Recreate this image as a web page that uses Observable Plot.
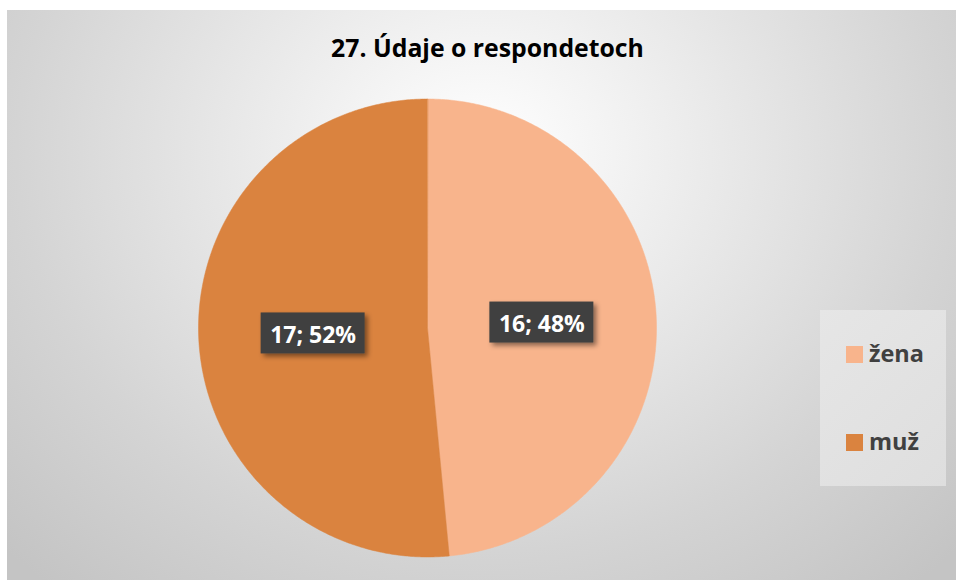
<!DOCTYPE html>
<html><head><meta charset="utf-8">
<script src="https://cdn.jsdelivr.net/npm/d3@7"></script>
<script src="https://cdn.jsdelivr.net/npm/@observablehq/plot@0.6"></script>
<style>
html,body{margin:0;padding:0;background:#fff;}
#wrap{position:relative;width:956px;height:580px;overflow:hidden;font-family:"Open Sans",sans-serif;}
#bg{position:absolute;left:7px;top:10px;right:0;bottom:0;
 background:radial-gradient(ellipse 70% 100% at 50% 25%, #ffffff 0%, #f3f3f3 20%, #d4d4d4 70%, #c4c4c4 100%);}
#chart{position:absolute;left:0;top:0;}
#title{position:absolute;left:287.5px;width:400px;top:30px;line-height:34px;text-align:center;font-size:24.8px;font-weight:bold;color:#000;white-space:nowrap;}
#legend{position:absolute;left:820px;top:310px;width:126px;height:176px;background:linear-gradient(135deg,#e6e6e6,#dedede);}
.sw{position:absolute;width:17px;height:17px;}
.lt{position:absolute;font-size:23.5px;font-weight:bold;color:#404040;line-height:31px;white-space:nowrap;}
</style></head>
<body>
<div id="wrap">
  <div id="bg"></div>
  <div id="chart"></div>
  <div id="title"></div>
  <div id="legend"></div>
</div>
<script>
const categories = ["žena", "muž"];
const values = [16, 17];
const colors = ["#F8B48C", "#DA833F"];
const titleText = "27. Údaje o respondetoch";

const W = 956, H = 580, cx = 427, cy = 327.5, R = 229;
const total = d3.sum(values);
const arcs = d3.pie().sort(null).value(d => d)(values);

const slicePts = [];
arcs.forEach((a, i) => {
  const cat = categories[i];
  const n = Math.max(2, Math.ceil((a.endAngle - a.startAngle) / (Math.PI / 360)));
  slicePts.push({cat, px: cx, py: cy});
  for (let k = 0; k <= n; k++) {
    const ang = a.startAngle + (a.endAngle - a.startAngle) * k / n;
    slicePts.push({cat, px: cx + R * Math.sin(ang), py: cy - R * Math.cos(ang)});
  }
});

const labels = arcs.map((a, i) => {
  const mid = (a.startAngle + a.endAngle) / 2;
  return {
    cat: categories[i],
    label: `${values[i]}; ${Math.round(values[i] / total * 100)}%`,
    lx: cx + R / 2 * Math.sin(mid),
    ly: cy - R / 2 * Math.cos(mid)
  };
});

const plot = Plot.plot({
  width: W, height: H, margin: 0,
  x: {domain: [0, W], range: [0, W], axis: null},
  y: {domain: [0, H], range: [0, H], axis: null},
  color: {domain: categories, range: colors},
  style: {background: "transparent", overflow: "visible"},
  marks: [
    Plot.line(slicePts, {x: "px", y: "py", z: "cat", fill: "cat", stroke: "cat", strokeWidth: 0.5, curve: "linear-closed"}),
    Plot.rect(labels, {x1: d => d.lx - 52, x2: d => d.lx + 52, y1: d => d.ly - 20.5, y2: d => d.ly + 20.5, fill: "#404040"}),
    Plot.text(labels, {x: "lx", y: "ly", text: "label", fill: "white", fontSize: 23, fontWeight: "bold", fontFamily: "Open Sans", dy: 2})
  ]
});

// drop shadow for label boxes
const ns = "http://www.w3.org/2000/svg";
const defs = document.createElementNS(ns, "defs");
defs.innerHTML = '<filter id="sh" x="-20%" y="-30%" width="150%" height="170%"><feDropShadow dx="3" dy="3" stdDeviation="2.5" flood-color="#000" flood-opacity="0.45"/></filter>';
plot.insertBefore(defs, plot.firstChild);
const rg = plot.querySelector('g[aria-label="rect"]');
if (rg) rg.setAttribute("filter", "url(#sh)");
document.getElementById("chart").appendChild(plot);

document.getElementById("title").textContent = titleText;

const leg = document.getElementById("legend");
const legTops = [36, 124];
categories.forEach((c, i) => {
  const sw = document.createElement("div");
  sw.className = "sw";
  sw.style.left = "26px";
  sw.style.top = legTops[i] + "px";
  sw.style.background = colors[i];
  leg.appendChild(sw);
  const t = document.createElement("div");
  t.className = "lt";
  t.style.left = "49px";
  t.style.top = (legTops[i] - 8) + "px";
  t.textContent = c;
  leg.appendChild(t);
});
</script>
</body></html>
